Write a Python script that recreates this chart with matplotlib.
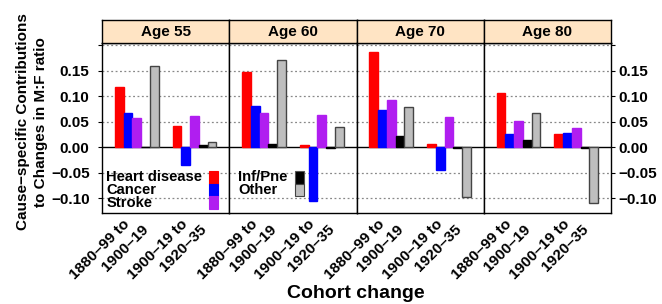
import numpy as np
import matplotlib.pyplot as plt
from matplotlib.patches import Rectangle
from matplotlib.transforms import ScaledTranslation

plt.rcParams['font.family'] = ['Liberation Sans', 'DejaVu Sans']
plt.rcParams['font.weight'] = 'bold'

ages = ["Age 55", "Age 60", "Age 70", "Age 80"]
cohorts = [("1880\u201399 to", "1900\u201319"), ("1900\u201319 to", "1920\u201335")]
causes = ["Heart disease", "Cancer", "Stroke", "Inf/Pne", "Other"]
colors = ["#FF0000", "#0000FF", "#B01EF0", "#000000", "#BEBEBE"]
edges = ["#FF0000", "#0000FF", "#B01EF0", "#000000", "#444444"]

# per cause: [age55 c1, age55 c2, age60 c1, age60 c2, age70 c1, age70 c2, age80 c1, age80 c2]
heart = [0.117, 0.041, 0.148, 0.003, 0.186, 0.006, 0.106, 0.025]
cancer = [0.066, -0.036, 0.080, -0.105, 0.073, -0.046, 0.025, 0.027]
stroke = [0.057, 0.060, 0.067, 0.062, 0.092, 0.059, 0.051, 0.038]
infpne = [0.001, 0.003, 0.005, -0.001, 0.022, -0.002, 0.014, -0.002]
other = [0.158, 0.010, 0.171, 0.039, 0.078, -0.099, 0.067, -0.110]
series = [heart, cancer, stroke, infpne, other]

yticks = [-0.10, -0.05, 0.00, 0.05, 0.10, 0.15, 0.20]
ylabels = ["\u22120.10", "\u22120.05", "0.00", "0.05", "0.10", "0.15", ""]

W, H = 662, 304
fig = plt.figure(figsize=(W / 100, H / 100), dpi=100)

left, right = 102 / W, 611 / W
bottom, top = 1 - 213.3 / H, 1 - 43 / H
strip_h = 23 / H
pw = (right - left) / len(ages)

bar_w = 0.151
x = np.arange(1, len(cohorts) + 1)


def px_offset(ax, dx, dy):
    # shift in pixels (dy downwards)
    return ax.get_xaxis_transform() + ScaledTranslation(dx / 100, -dy / 100, fig.dpi_scale_trans)


for i, age in enumerate(ages):
    ax = fig.add_axes([left + i * pw, bottom, pw, top - bottom])
    for k, vals in enumerate(series):
        v = [vals[2 * i], vals[2 * i + 1]]
        ax.bar(x + (k - 2) * bar_w, v, width=bar_w, color=colors[k],
               edgecolor=edges[k], linewidth=1.0, zorder=3)
    for t in yticks:
        if t == 0:
            ax.axhline(0, color="black", lw=1.0, zorder=2)
        else:
            ax.axhline(t, color="#888888", lw=0.9, ls=(0, (1.5, 2)), zorder=1)
    ax.set_xlim(0.4, 2.6)
    ax.set_ylim(-0.130, 0.204)
    ax.set_xticks(x)
    ax.set_xticklabels([])
    ax.tick_params(axis="x", length=0)
    for xi, (l1, l2) in zip(x, cohorts):
        ax.text(xi, 0, l1, rotation=45, rotation_mode="anchor", ha="right",
                va="center", fontsize=11, fontweight="bold",
                transform=px_offset(ax, -9, 9))
        ax.text(xi, 0, l2, rotation=45, rotation_mode="anchor", ha="right",
                va="center", fontsize=11, fontweight="bold",
                transform=px_offset(ax, 10, 14))
    ax.set_yticks(yticks)
    if i == 0:
        ax.set_yticklabels(ylabels, fontsize=11, fontweight="bold")
        ax.tick_params(axis="y", left=True, right=False, length=3, pad=6)
    elif i == len(ages) - 1:
        ax.yaxis.tick_right()
        ax.set_yticklabels(ylabels, fontsize=11, fontweight="bold")
        ax.tick_params(axis="y", left=False, right=True, length=3, pad=2)
    else:
        ax.tick_params(axis="y", left=False, right=False, labelleft=False)
    for s in ax.spines.values():
        s.set_linewidth(1.0)
        s.set_color("black")

    sax = fig.add_axes([left + i * pw, top, pw, strip_h])
    sax.set_facecolor("#FFE4C4")
    sax.set_xticks([])
    sax.set_yticks([])
    for s in sax.spines.values():
        s.set_linewidth(1.0)
    sax.text(0.5, 0.48, age, ha="center", va="center", fontsize=11,
             fontweight="bold", transform=sax.transAxes)


# legend drawn inside the first two panels
def legend_col(names, cols, edgs, tx, rx, y0):
    rh = 12.7
    for j, (n, c, e) in enumerate(zip(names, cols, edgs)):
        yt = y0 + j * rh
        fig.text(tx / W, 1 - (yt + rh / 2) / H, n, ha="left", va="center",
                 fontsize=10.6, fontweight="bold")
        fig.add_artist(Rectangle((rx / W, 1 - (yt + rh) / H), 9 / W, rh / H,
                                 facecolor=c, edgecolor=e, lw=0.8,
                                 transform=fig.transFigure, zorder=5))


legend_col(causes[:3], colors[:3], edges[:3], 106.5, 209.3, 171)
legend_col(causes[3:], colors[3:], ["#555555", "#444444"], 238, 294.5, 171)

fig.text(32 / W, 1 - 122 / H, "Cause\u2212specific Contributions\nto Changes in M:F ratio",
         rotation=90, ha="center", va="center", fontsize=11,
         fontweight="bold", linespacing=1.4)
fig.text(356 / W, 1 - 293 / H, "Cohort change", ha="center", va="center",
         fontsize=14, fontweight="bold")

fig.savefig("out.png", dpi=100)
